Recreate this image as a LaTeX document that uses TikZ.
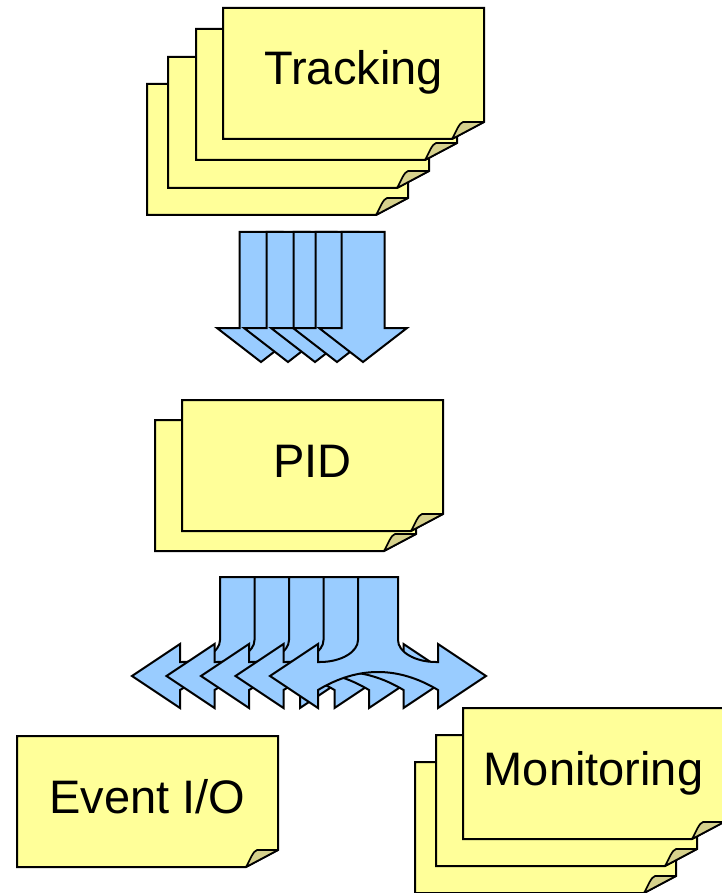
\documentclass[tikz,border=0pt]{standalone}
\usepackage{fontspec}
\setmainfont{Liberation Sans}
\usepackage{tikz}

\definecolor{noteyellow}{RGB}{255,255,153}
\definecolor{notefoldc}{RGB}{214,209,140}
\definecolor{flowblue}{RGB}{153,204,255}

% sticky note, #1/#2 = top left corner
\newcommand{\stickynote}[2]{%
  \draw[notebody] (#1,#2) -- ++(261,0) -- ++(0,114) -- ++(-32,17) -- ++(-229,0) -- cycle;
  \draw[notefold] ({#1+261},{#2+114}) -- ({#1+240},{#2+114})
    .. controls ({#1+236},{#2+115}) and ({#1+233},{#2+124}) .. ({#1+229},{#2+131}) -- cycle;
}
% block arrow pointing down, #1 = centre x
\newcommand{\downblock}[1]{%
  \draw[blockarrow] ({#1-21.5},232) -- ({#1+21.5},232) -- ({#1+21.5},328) -- ({#1+44},328)
    -- (#1,362) -- ({#1-44},328) -- ({#1-21.5},328) -- cycle;
}
% block arrow splitting left and right, #1 = centre x of the stem
\newcommand{\splitblock}[1]{%
  \draw[blockarrow] ({#1-20},577) -- ({#1+20},577) -- ({#1+20},640)
    .. controls ({#1+20},652) and ({#1+37},662) .. ({#1+58},662)
    -- ({#1+60},662) -- ({#1+60},644) -- ({#1+108},676) -- ({#1+60},708) -- ({#1+60},690)
    .. controls ({#1+40},678) and ({#1+20},672) .. (#1,672)
    .. controls ({#1-20},672) and ({#1-40},678) .. ({#1-60},690)
    -- ({#1-60},708) -- ({#1-108},676) -- ({#1-60},644) -- ({#1-60},662) -- ({#1-58},662)
    .. controls ({#1-37},662) and ({#1-20},652) .. ({#1-20},640) -- cycle;
}

\begin{document}
\begin{tikzpicture}[x=1pt, y=-1pt,
    notebody/.style={draw=black, line width=2pt, fill=noteyellow},
    notefold/.style={draw=black, line width=1.7pt, fill=notefoldc, line join=round},
    blockarrow/.style={draw=black, line width=2pt, fill=flowblue},
    notetext/.style={font=\fontsize{47}{56}\selectfont, inner sep=0pt, anchor=base}]
    \useasboundingbox (0,0) rectangle (721,893);

    % tracking stack
    \foreach \x/\y in {147/84, 168/57, 196/29, 223/8}
        \stickynote{\x}{\y};
    \node[notetext] (tracking) at (353.5,85) {Tracking};

    \foreach \cx in {261, 288, 315, 337, 363}
        \downblock{\cx};

    % pid stack
    \foreach \x/\y in {155/420, 182/400}
        \stickynote{\x}{\y};
    \node[notetext] (pid) at (312.5,477) {PID};

    \foreach \cx in {240, 274.5, 309, 343.5, 378}
        \splitblock{\cx};

    % outputs
    \stickynote{17}{736}
    \node[notetext] (eventio) at (147.5,813) {Event I/O};

    \foreach \x/\y in {415/762, 436/735, 463/708}
        \stickynote{\x}{\y};
    \node[notetext] (monitoring) at (593.5,785) {Monitoring};
\end{tikzpicture}
\end{document}
